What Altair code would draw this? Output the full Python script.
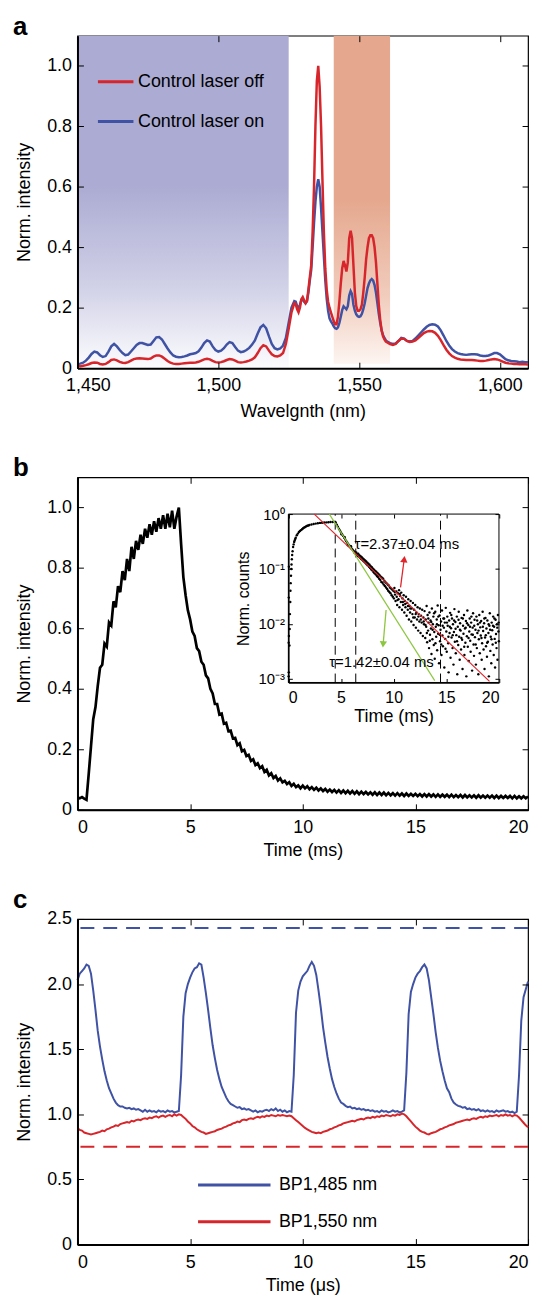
import altair as alt
import pandas as pd

FONT = "Liberation Sans"
RED = "#D7262B"
BLUE = "#3F52A4"
INSET_RED = "#E0262C"
INSET_GREEN = "#8DC63F"

# ---------------- panel a : emission spectra ----------------
wavelength = [
    1450, 1451, 1452, 1453, 1454, 1455, 1456, 1457, 1458, 1459,
    1460, 1461, 1462, 1463, 1464, 1465, 1466, 1467, 1468, 1469,
    1470, 1471, 1472, 1473, 1474, 1475, 1476, 1477, 1478, 1479,
    1480, 1481, 1482, 1483, 1484, 1485, 1486, 1487, 1488, 1489,
    1490, 1491, 1492, 1493, 1494, 1495, 1496, 1497, 1498, 1499,
    1500, 1501, 1502, 1503, 1504, 1505, 1506, 1507, 1508, 1509,
    1510, 1511, 1512, 1513, 1514, 1515, 1516, 1517, 1518, 1519,
    1520, 1521, 1522, 1523, 1524, 1525, 1526, 1527,
    1527.5, 1528, 1528.5, 1529, 1529.5, 1530, 1530.5, 1531, 1531.5, 1532,
    1532.5, 1533, 1533.5, 1534, 1534.5, 1535, 1535.5, 1536, 1536.5, 1537,
    1537.5, 1538, 1538.5, 1539, 1539.5, 1540, 1540.5, 1541, 1541.5, 1542,
    1542.5, 1543, 1543.5, 1544, 1544.5, 1545, 1545.5, 1546, 1546.5, 1547,
    1547.5, 1548, 1548.5, 1549, 1549.5, 1550, 1550.5, 1551, 1551.5, 1552,
    1552.5, 1553, 1553.5, 1554, 1554.5, 1555, 1555.5, 1556, 1556.5, 1557,
    1557.5, 1558, 1558.5, 1559, 1559.5, 1560,
    1561, 1562, 1563, 1564, 1565, 1566, 1567, 1568, 1569, 1570,
    1571, 1572, 1573, 1574, 1575, 1576, 1577, 1578, 1579, 1580,
    1581, 1582, 1583, 1584, 1585, 1586, 1587, 1588, 1589, 1590,
    1591, 1592, 1593, 1594, 1595, 1596, 1597, 1598, 1599, 1600,
    1601, 1602, 1603, 1604, 1605, 1606, 1607, 1608, 1609, 1610,
]
laser_on = [
    0.014, 0.015, 0.018, 0.025, 0.035, 0.047, 0.055, 0.052, 0.043, 0.037,
    0.04, 0.055, 0.072, 0.08, 0.072, 0.06, 0.05, 0.043, 0.045, 0.055,
    0.066, 0.077, 0.083, 0.083, 0.08, 0.077, 0.078, 0.09, 0.102, 0.103,
    0.095, 0.08, 0.065, 0.052, 0.042, 0.038, 0.036, 0.037, 0.039, 0.042,
    0.046, 0.048, 0.05, 0.056, 0.068, 0.083, 0.092, 0.088, 0.072, 0.06,
    0.055, 0.058, 0.066, 0.078, 0.086, 0.083, 0.07, 0.058, 0.053, 0.055,
    0.06, 0.067, 0.078, 0.092, 0.115, 0.135, 0.143, 0.132, 0.105, 0.08,
    0.066, 0.062, 0.065, 0.075, 0.1, 0.15, 0.2, 0.222,
    0.22, 0.205, 0.198, 0.21, 0.225, 0.228, 0.22, 0.215, 0.222, 0.25,
    0.29, 0.325, 0.4, 0.48, 0.55, 0.6, 0.625, 0.6, 0.53, 0.45,
    0.37, 0.29, 0.23, 0.19, 0.165, 0.155, 0.148, 0.138, 0.132, 0.13,
    0.135, 0.15, 0.17, 0.192, 0.205, 0.2, 0.195, 0.205, 0.24, 0.255,
    0.245, 0.21, 0.19, 0.178, 0.172, 0.17, 0.172, 0.18, 0.195, 0.215,
    0.24, 0.265, 0.28, 0.29, 0.295, 0.29, 0.275, 0.25, 0.215, 0.18,
    0.15, 0.125, 0.11, 0.1, 0.092, 0.088,
    0.083, 0.08, 0.082, 0.09, 0.1, 0.098, 0.09, 0.088, 0.09, 0.098,
    0.108, 0.118, 0.128, 0.137, 0.143, 0.145, 0.144, 0.138, 0.125, 0.108,
    0.09, 0.075, 0.063, 0.055, 0.05, 0.047, 0.045, 0.044, 0.045, 0.046,
    0.046, 0.045, 0.042, 0.04, 0.04, 0.042, 0.046, 0.05, 0.05, 0.046,
    0.038, 0.03, 0.026, 0.024, 0.023, 0.022, 0.02, 0.021, 0.02, 0.02,
]
laser_off = [
    0.006, 0.006, 0.008, 0.01, 0.013, 0.017, 0.019, 0.018, 0.014, 0.012,
    0.014, 0.02, 0.027, 0.029, 0.026, 0.021, 0.018, 0.017, 0.02, 0.025,
    0.03, 0.032, 0.033, 0.032, 0.031, 0.03, 0.032, 0.038, 0.042, 0.042,
    0.038, 0.031, 0.024, 0.018, 0.015, 0.014, 0.014, 0.015, 0.016, 0.017,
    0.018, 0.018, 0.019, 0.021, 0.025, 0.029, 0.031, 0.029, 0.024, 0.02,
    0.019, 0.02, 0.023, 0.027, 0.03, 0.029, 0.025, 0.02, 0.019, 0.02,
    0.022, 0.025, 0.029, 0.036, 0.05, 0.066, 0.076, 0.072, 0.058, 0.046,
    0.04, 0.039, 0.042, 0.05, 0.08, 0.13, 0.185, 0.215,
    0.212, 0.195, 0.185, 0.2, 0.228, 0.235, 0.225, 0.215, 0.222, 0.26,
    0.3, 0.34, 0.45, 0.6, 0.8, 0.95, 1.0, 0.93, 0.8, 0.62,
    0.45, 0.33, 0.26, 0.22, 0.2, 0.185, 0.17, 0.155, 0.145, 0.145,
    0.17, 0.22, 0.28, 0.33, 0.355, 0.34, 0.32, 0.35, 0.43, 0.455,
    0.43, 0.34, 0.25, 0.205, 0.19, 0.19, 0.195, 0.21, 0.25, 0.3,
    0.36, 0.4, 0.43, 0.44, 0.44, 0.43, 0.4, 0.35, 0.28, 0.21,
    0.16, 0.125, 0.105, 0.095, 0.088, 0.085,
    0.08, 0.077, 0.08, 0.09, 0.098, 0.097, 0.09, 0.087, 0.088, 0.092,
    0.1, 0.108, 0.116, 0.121, 0.123, 0.122, 0.117, 0.107, 0.093, 0.076,
    0.061, 0.049, 0.04, 0.035, 0.031, 0.029, 0.028, 0.027, 0.027, 0.027,
    0.026, 0.025, 0.024, 0.024, 0.025, 0.027, 0.029, 0.03, 0.029, 0.026,
    0.022, 0.018, 0.016, 0.015, 0.014, 0.014, 0.013, 0.013, 0.013, 0.012,
]
series_names_a = ["Control laser off", "Control laser on"]
band_names = ["BP1,485", "BP1,550"]
band_start = [1450, 1541]
band_end = [1525, 1561]
band_bottom = [0.0, 0.015]
band_top = [1.1, 1.1]
panel_letters = ["a", "b", "c"]

# ---------------- panel b : rise / decay ----------------
time_grid = [
    0.0, 0.1, 0.2, 0.3, 0.4, 0.5, 0.6, 0.7, 0.8, 0.9,
    1.0, 1.1, 1.2, 1.3, 1.4, 1.5, 1.6, 1.7, 1.8, 1.9,
    2.0, 2.1, 2.2, 2.3, 2.4, 2.5, 2.6, 2.7, 2.8, 2.9,
    3.0, 3.1, 3.2, 3.3, 3.4, 3.5, 3.6, 3.7, 3.8, 3.9,
    4.0, 4.1, 4.2, 4.3, 4.4, 4.5, 4.6, 4.7, 4.8, 4.9,
    5.0, 5.1, 5.2, 5.3, 5.4, 5.5, 5.6, 5.7, 5.8, 5.9,
    6.0, 6.1, 6.2, 6.3, 6.4, 6.5, 6.6, 6.7, 6.8, 6.9,
    7.0, 7.1, 7.2, 7.3, 7.4, 7.5, 7.6, 7.7, 7.8, 7.9,
    8.0, 8.1, 8.2, 8.3, 8.4, 8.5, 8.6, 8.7, 8.8, 8.9,
    9.0, 9.1, 9.2, 9.3, 9.4, 9.5, 9.6, 9.7, 9.8, 9.9,
    10.0, 10.1, 10.2, 10.3, 10.4, 10.5, 10.6, 10.7, 10.8, 10.9,
    11.0, 11.1, 11.2, 11.3, 11.4, 11.5, 11.6, 11.7, 11.8, 11.9,
    12.0, 12.1, 12.2, 12.3, 12.4, 12.5, 12.6, 12.7, 12.8, 12.9,
    13.0, 13.1, 13.2, 13.3, 13.4, 13.5, 13.6, 13.7, 13.8, 13.9,
    14.0, 14.1, 14.2, 14.3, 14.4, 14.5, 14.6, 14.7, 14.8, 14.9,
    15.0, 15.1, 15.2, 15.3, 15.4, 15.5, 15.6, 15.7, 15.8, 15.9,
    16.0, 16.1, 16.2, 16.3, 16.4, 16.5, 16.6, 16.7, 16.8, 16.9,
    17.0, 17.1, 17.2, 17.3, 17.4, 17.5, 17.6, 17.7, 17.8, 17.9,
    18.0, 18.1, 18.2, 18.3, 18.4, 18.5, 18.6, 18.7, 18.8, 18.9,
    19.0, 19.1, 19.2, 19.3, 19.4, 19.5, 19.6, 19.7, 19.8, 19.9,
    20.0,
]
intensity_b = [
    0.041, 0.038, 0.042, 0.037, 0.033, 0.12, 0.21, 0.3, 0.34, 0.41,
    0.47, 0.48, 0.55, 0.54, 0.62, 0.61, 0.69, 0.67, 0.74, 0.72,
    0.79, 0.76, 0.83, 0.79, 0.87, 0.83, 0.89, 0.86, 0.91, 0.88,
    0.93, 0.9, 0.945, 0.91, 0.955, 0.92, 0.965, 0.93, 0.975, 0.93,
    0.98, 0.935, 0.99, 0.93, 0.97, 1.0, 0.88, 0.77, 0.71, 0.66,
    0.63, 0.59, 0.575, 0.535, 0.525, 0.49, 0.48, 0.445, 0.435, 0.4,
    0.385, 0.35, 0.35, 0.315, 0.318, 0.285, 0.288, 0.26, 0.262, 0.236,
    0.238, 0.214, 0.22, 0.194, 0.198, 0.178, 0.182, 0.162, 0.167, 0.148,
    0.154, 0.138, 0.144, 0.125, 0.132, 0.114, 0.121, 0.105, 0.112, 0.097,
    0.104, 0.091, 0.096, 0.085, 0.091, 0.079, 0.086, 0.075, 0.081, 0.071,
    0.08, 0.071, 0.078, 0.068, 0.075, 0.066, 0.073, 0.064, 0.071, 0.062,
    0.069, 0.06, 0.067, 0.059, 0.066, 0.057, 0.065, 0.056, 0.064, 0.055,
    0.063, 0.054, 0.062, 0.053, 0.061, 0.052, 0.06, 0.052, 0.059, 0.051,
    0.058, 0.05, 0.058, 0.049, 0.057, 0.049, 0.057, 0.048, 0.056, 0.048,
    0.055, 0.047, 0.055, 0.047, 0.054, 0.046, 0.054, 0.046, 0.053, 0.046,
    0.053, 0.045, 0.052, 0.044, 0.052, 0.044, 0.052, 0.044, 0.051, 0.043,
    0.051, 0.043, 0.05, 0.043, 0.05, 0.042, 0.05, 0.042, 0.049, 0.042,
    0.049, 0.041, 0.049, 0.041, 0.048, 0.041, 0.048, 0.04, 0.048, 0.04,
    0.047, 0.04, 0.047, 0.04, 0.047, 0.039, 0.047, 0.039, 0.046, 0.039,
    0.046, 0.039, 0.046, 0.038, 0.046, 0.038, 0.045, 0.038, 0.045, 0.038,
    0.044,
]

# inset: (time ms, normalised counts)
inset_points = [
    (0.03, 0.0011), (0.04, 0.0013), (0.03, 0.0045), (0.05, 0.006), (0.04, 0.03), (0.05, 0.11),
    (0.1, 0.004), (0.12, 0.008), (0.15, 0.015), (0.18, 0.025), (0.2, 0.04), (0.22, 0.055),
    (0.25, 0.075), (0.28, 0.1), (0.3, 0.12), (0.33, 0.15), (0.36, 0.18), (0.4, 0.21),
    (0.45, 0.25), (0.5, 0.28), (0.55, 0.31), (0.6, 0.33), (0.65, 0.35), (0.7, 0.37),
    (0.8, 0.41), (0.9, 0.44), (1.0, 0.47), (1.1, 0.49), (1.2, 0.51), (1.3, 0.53),
    (1.4, 0.55), (1.5, 0.57), (1.6, 0.58), (1.7, 0.6), (1.8, 0.61), (1.9, 0.62),
    (2.0, 0.63), (2.2, 0.645), (2.4, 0.66), (2.6, 0.67), (2.8, 0.68), (3.0, 0.69),
    (3.2, 0.695), (3.4, 0.7), (3.6, 0.705), (3.8, 0.71), (4.0, 0.715), (4.2, 0.715), (4.4, 0.72),
    (4.5, 0.7), (4.6, 0.64), (4.7, 0.59), (4.8, 0.54), (4.9, 0.5), (5.0, 0.46), (5.05, 0.43),
    (5.1, 0.43), (5.2, 0.4), (5.3, 0.37), (5.35, 0.38), (5.4, 0.345), (5.5, 0.32), (5.6, 0.3),
    (5.65, 0.27), (5.7, 0.28), (5.8, 0.265), (5.9, 0.25), (5.95, 0.26), (6.0, 0.236),
    (6.1, 0.225), (6.2, 0.213), (6.25, 0.2), (6.3, 0.203), (6.4, 0.193), (6.45, 0.2), (6.5, 0.185),
    (6.52, 0.185), (6.58, 0.172), (6.63, 0.19), (6.7, 0.168), (6.74, 0.178), (6.81, 0.16),
    (6.86, 0.171), (6.92, 0.152), (6.97, 0.163), (7.03, 0.146), (7.08, 0.155), (7.12, 0.139),
    (7.18, 0.149), (7.23, 0.134), (7.29, 0.142), (7.33, 0.128), (7.39, 0.137), (7.44, 0.121),
    (7.5, 0.13), (7.54, 0.116), (7.6, 0.124), (7.66, 0.109), (7.71, 0.119), (7.76, 0.104),
    (7.82, 0.112), (7.87, 0.098), (7.93, 0.107), (7.98, 0.094),
    (8.03, 0.101), (8.08, 0.088), (8.14, 0.097), (8.19, 0.083), (8.24, 0.092), (8.3, 0.079),
    (8.34, 0.089), (8.41, 0.074), (8.46, 0.084), (8.5, 0.071), (8.57, 0.08), (8.62, 0.066),
    (8.66, 0.077), (8.73, 0.063), (8.78, 0.072), (8.83, 0.058), (8.9, 0.069), (8.94, 0.056),
    (9.0, 0.066), (9.05, 0.052), (9.11, 0.061), (9.16, 0.049), (9.21, 0.058), (9.27, 0.046),
    (9.32, 0.055), (9.38, 0.043), (9.43, 0.052), (9.48, 0.04), (9.54, 0.05), (9.59, 0.038),
    (9.65, 0.046), (9.7, 0.036), (9.76, 0.044), (9.81, 0.033), (9.86, 0.042), (9.92, 0.031),
    (9.97, 0.04),
    (10.02, 0.029), (10.07, 0.045), (10.13, 0.034), (10.18, 0.026), (10.24, 0.039), (10.29, 0.031),
    (10.33, 0.022), (10.4, 0.036), (10.46, 0.028), (10.51, 0.041), (10.55, 0.02), (10.62, 0.032),
    (10.68, 0.025), (10.72, 0.037), (10.79, 0.018), (10.84, 0.029), (10.9, 0.022), (10.95, 0.033),
    (11.01, 0.016), (11.06, 0.026), (11.12, 0.02), (11.17, 0.031), (11.23, 0.014), (11.28, 0.024),
    (11.34, 0.018), (11.39, 0.028), (11.45, 0.012), (11.5, 0.021), (11.56, 0.016), (11.61, 0.026),
    (11.67, 0.011), (11.72, 0.019), (11.78, 0.015), (11.83, 0.024), (11.89, 0.0095), (11.94, 0.018),
    (12.0, 0.013), (12.05, 0.022), (12.11, 0.0085), (12.16, 0.016), (12.22, 0.012), (12.27, 0.02),
    (12.33, 0.0075), (12.38, 0.015), (12.44, 0.011), (12.49, 0.019), (12.55, 0.0068), (12.6, 0.014),
    (12.66, 0.0105), (12.71, 0.018), (12.77, 0.006), (12.82, 0.013), (12.88, 0.0098), (12.93, 0.017),
    (10.1, 0.038), (10.36, 0.027), (10.58, 0.035), (10.87, 0.025), (11.1, 0.023), (11.36, 0.021),
    (11.58, 0.019), (11.86, 0.013), (12.09, 0.015), (12.35, 0.0135), (12.58, 0.012), (12.85, 0.011),
    (13.0, 0.0055), (13.04, 0.012), (13.09, 0.0088), (13.13, 0.021), (13.18, 0.0046), (13.22, 0.0145),
    (13.27, 0.0075), (13.31, 0.0105), (13.36, 0.0036), (13.4, 0.016), (13.45, 0.0063), (13.5, 0.0115),
    (13.54, 0.0082), (13.59, 0.0028), (13.63, 0.019), (13.68, 0.0052), (13.72, 0.0098), (13.77, 0.0135),
    (13.81, 0.0041), (13.86, 0.0071), (13.9, 0.0023), (13.95, 0.0165), (14.0, 0.0088), (14.04, 0.0058),
    (14.09, 0.012), (14.13, 0.0033), (14.18, 0.0215), (14.22, 0.0066), (14.27, 0.0094), (14.31, 0.0019),
    (14.36, 0.0142), (14.4, 0.0048), (14.45, 0.0078), (14.5, 0.011), (14.54, 0.0027), (14.59, 0.0175),
    (14.63, 0.0061), (14.68, 0.0039), (14.72, 0.0125), (14.77, 0.0085), (14.81, 0.0016), (14.86, 0.0105),
    (14.9, 0.0053), (14.95, 0.0195), (15.0, 0.0072), (15.04, 0.0031), (15.09, 0.0135), (15.13, 0.0092),
    (15.18, 0.0044), (15.22, 0.0013), (15.27, 0.0115), (15.31, 0.0068), (15.36, 0.0158), (15.4, 0.0024),
    (15.45, 0.0083), (15.5, 0.0056), (15.54, 0.0125), (15.59, 0.0036), (15.63, 0.0098), (15.68, 0.0018),
    (15.72, 0.0071), (15.77, 0.0185), (15.81, 0.0047), (15.86, 0.0108), (15.9, 0.0029), (15.95, 0.0062),
    (16.0, 0.0135), (16.04, 0.0012), (16.09, 0.0088), (16.13, 0.0041), (16.18, 0.0165), (16.22, 0.0058),
    (16.27, 0.0022), (16.31, 0.0102), (16.36, 0.0075), (16.4, 0.0034), (16.45, 0.0128), (16.5, 0.0051),
    (16.54, 0.0015), (16.59, 0.0092), (16.63, 0.0066), (16.68, 0.0145), (16.72, 0.0027), (16.77, 0.0082),
    (16.81, 0.0045), (16.86, 0.0112), (16.9, 0.0011), (16.95, 0.0059), (17.0, 0.0175), (17.04, 0.0038),
    (17.09, 0.0095), (17.13, 0.0021), (17.18, 0.0072), (17.22, 0.0125), (17.27, 0.0049), (17.31, 0.0031),
    (17.36, 0.0105), (17.4, 0.0064), (17.45, 0.0014), (17.5, 0.0085), (17.54, 0.0155), (17.59, 0.0042),
    (17.63, 0.0026), (17.68, 0.0118), (17.72, 0.0057), (17.77, 0.0078), (17.81, 0.0018), (17.86, 0.0135),
    (17.9, 0.0036), (17.95, 0.0068), (18.0, 0.0098), (18.04, 0.0012), (18.09, 0.0052), (18.13, 0.0145),
    (18.18, 0.0029), (18.22, 0.0086), (18.27, 0.0061), (18.31, 0.0112), (18.36, 0.0022), (18.4, 0.0044),
    (18.45, 0.0165), (18.5, 0.0074), (18.54, 0.0034), (18.59, 0.0102), (18.63, 0.0015), (18.68, 0.0056),
    (18.72, 0.0128), (18.77, 0.0039), (18.81, 0.0082), (18.86, 0.0025), (18.9, 0.0115), (18.95, 0.0047),
    (19.0, 0.0068), (19.04, 0.0011), (19.09, 0.0092), (19.13, 0.0155), (19.18, 0.0032), (19.22, 0.0058),
    (19.27, 0.0019), (19.31, 0.0105), (19.36, 0.0076), (19.4, 0.0042), (19.45, 0.0135), (19.5, 0.0027),
    (19.54, 0.0088), (19.59, 0.0053), (19.63, 0.0016), (19.68, 0.0118), (19.72, 0.0065), (19.77, 0.0036),
    (19.81, 0.0098), (19.86, 0.0022), (19.9, 0.0145), (19.95, 0.0072), (19.99, 0.0048),
    (13.02, 0.0095), (13.15, 0.0068), (13.29, 0.0125), (13.43, 0.0049), (13.57, 0.0108), (13.7, 0.0078),
    (13.84, 0.0155), (13.97, 0.0044), (14.11, 0.0098), (14.24, 0.0135), (14.38, 0.0063), (14.52, 0.0042),
    (14.65, 0.0092), (14.79, 0.0125), (14.92, 0.0035), (15.06, 0.0105), (15.2, 0.0058), (15.33, 0.0088),
    (15.47, 0.0145), (15.61, 0.0062), (15.74, 0.0115), (15.88, 0.0081), (16.02, 0.0048), (16.16, 0.0118),
    (16.29, 0.0078), (16.43, 0.0055), (16.57, 0.0125), (16.7, 0.0038), (16.84, 0.0085), (16.97, 0.0102),
    (17.11, 0.0055), (17.25, 0.0088), (17.38, 0.0135), (17.52, 0.0063), (17.65, 0.0092), (17.79, 0.0042),
    (17.93, 0.0115), (18.06, 0.0075), (18.2, 0.0105), (18.34, 0.0055), (18.47, 0.0088), (18.61, 0.0125),
    (18.75, 0.0062), (18.88, 0.0045), (19.02, 0.0098), (19.16, 0.0078), (19.29, 0.0052), (19.43, 0.0092),
    (19.57, 0.0125), (19.7, 0.0045), (19.84, 0.0085), (19.97, 0.0105),
]
inset_dash_times = [4.45, 6.4, 14.45]
inset_range_counts = [0.00085, 1.0]
fit_slow_t = [2.46, 19.1]
fit_slow_c = [1.0, 0.00089]
fit_fast_t = [3.89, 13.9]
fit_fast_c = [1.0, 0.00092]
annot_text = ["\u03c4=2.37\u00b10.04 ms", "\u03c4=1.42\u00b10.04 ms"]
annot_t = [11.25, 8.84]
annot_c = [0.29, 0.002]
arrow_slow = {"t": [10.65], "c": [0.046], "t2": [11.0], "c2": [0.15]}
arrow_fast = {"t": [9.28], "c": [0.0178], "t2": [9.0], "c2": [0.0042]}

# ---------------- panel c : modulation ----------------
series_names_c = ["BP1,485 nm", "BP1,550 nm"]
bp1485 = [
    2.03, 2.08, 2.1, 2.12, 2.15, 2.14, 2.08, 1.95, 1.8, 1.64,
    1.52, 1.42, 1.33, 1.26, 1.2, 1.16, 1.12, 1.09, 1.07, 1.06,
    1.06, 1.05, 1.045, 1.05, 1.04, 1.045, 1.035, 1.04, 1.03, 1.02,
    1.035, 1.02, 1.03, 1.02, 1.025, 1.015, 1.03, 1.02, 1.025, 1.015,
    1.03, 1.02, 1.025, 1.015, 1.02, 1.025, 1.3, 1.75, 1.93, 2.0,
    2.05, 2.09, 2.12, 2.13, 2.16, 2.15, 2.05, 1.93, 1.8, 1.66,
    1.53, 1.43, 1.34, 1.27, 1.21, 1.17, 1.13, 1.1, 1.08, 1.07,
    1.06, 1.05, 1.055, 1.04, 1.045, 1.035, 1.04, 1.03, 1.02, 1.03,
    1.015, 1.025, 1.02, 1.03, 1.035, 1.025, 1.04, 1.03, 1.045, 1.025,
    1.035, 1.02, 1.03, 1.015, 1.025, 1.02, 1.3, 1.78, 1.95, 2.02,
    2.06, 2.08, 2.1, 2.14, 2.17, 2.14, 2.07, 1.95, 1.82, 1.67,
    1.55, 1.44, 1.35, 1.27, 1.21, 1.16, 1.12, 1.09, 1.08, 1.065,
    1.055, 1.06, 1.045, 1.05, 1.04, 1.045, 1.035, 1.04, 1.03, 1.035,
    1.025, 1.03, 1.02, 1.025, 1.015, 1.03, 1.02, 1.025, 1.015, 1.02,
    1.03, 1.02, 1.025, 1.015, 1.02, 1.03, 1.32, 1.77, 1.94, 2.0,
    2.05, 2.08, 2.1, 2.13, 2.15, 2.12, 2.03, 1.9, 1.77, 1.63,
    1.51, 1.41, 1.33, 1.26, 1.2, 1.17, 1.12, 1.09, 1.075, 1.065,
    1.06, 1.05, 1.055, 1.04, 1.045, 1.035, 1.04, 1.03, 1.04, 1.025,
    1.03, 1.02, 1.03, 1.02, 1.025, 1.015, 1.03, 1.02, 1.025, 1.03,
    1.02, 1.025, 1.015, 1.02, 1.01, 1.02, 1.3, 1.72, 1.9, 1.96,
    2.02,
]
bp1550 = [
    0.895, 0.88, 0.875, 0.86, 0.855, 0.85, 0.845, 0.85, 0.855, 0.86,
    0.865, 0.875, 0.87, 0.885, 0.89, 0.9, 0.905, 0.915, 0.91, 0.925,
    0.93, 0.935, 0.94, 0.935, 0.95, 0.945, 0.955, 0.96, 0.955, 0.965,
    0.97, 0.965, 0.975, 0.97, 0.98, 0.985, 0.975, 0.985, 0.99, 0.98,
    0.99, 0.995, 0.985, 1.0, 0.99, 1.0, 0.995, 0.98, 0.965, 0.945,
    0.93, 0.91, 0.9, 0.885, 0.875, 0.865, 0.86, 0.85, 0.855, 0.86,
    0.865, 0.87, 0.88, 0.885, 0.89, 0.9, 0.905, 0.915, 0.92, 0.93,
    0.935, 0.945, 0.94, 0.955, 0.96, 0.955, 0.965, 0.97, 0.965, 0.975,
    0.98, 0.975, 0.985, 0.98, 0.99, 0.985, 0.995, 0.99, 0.985, 0.995,
    0.99, 0.995, 0.99, 0.985, 0.99, 0.985, 0.97, 0.955, 0.94, 0.925,
    0.91, 0.895, 0.885, 0.875, 0.865, 0.86, 0.855, 0.86, 0.855, 0.865,
    0.87, 0.875, 0.885, 0.89, 0.9, 0.905, 0.915, 0.92, 0.93, 0.935,
    0.94, 0.945, 0.95, 0.945, 0.955, 0.96, 0.965, 0.96, 0.97, 0.975,
    0.97, 0.98, 0.975, 0.985, 0.98, 0.99, 0.985, 0.995, 0.99, 0.985,
    0.995, 0.99, 1.0, 0.995, 1.005, 1.0, 0.985, 0.965, 0.945, 0.925,
    0.905, 0.89, 0.875, 0.865, 0.86, 0.85, 0.845, 0.855, 0.86, 0.865,
    0.875, 0.885, 0.89, 0.9, 0.905, 0.915, 0.92, 0.925, 0.935, 0.94,
    0.945, 0.95, 0.955, 0.96, 0.955, 0.965, 0.97, 0.965, 0.975, 0.98,
    0.975, 0.985, 0.98, 0.99, 0.985, 0.99, 0.995, 0.985, 0.995, 0.99,
    1.0, 0.99, 0.995, 0.985, 0.995, 0.99, 0.975, 0.955, 0.935, 0.915,
    0.9,
]
reference_levels = [2.43, 0.75]

# ---------------- layout constants ----------------
W = 454
HA = 335
HB = 335
HC = 328


def label_axis(orient, values, title, expr=None, lp=6, tp=13, **kw):
    opts = dict(orient=orient, values=values, title=title, ticks=False, domain=True,
                domainColor="black", domainWidth=2, labelPadding=lp, titlePadding=tp,
                labelFontSize=18, titleFontSize=18, labelColor="black", titleColor="black",
                titleFontWeight="normal", grid=False, zindex=1, labelFont=FONT, titleFont=FONT)
    if expr is not None:
        opts["labelExpr"] = expr
    opts.update(kw)
    return alt.Axis(**opts)


def tick_axis(orient, values, size=6, offset=None):
    # inward-pointing tick marks: an axis pushed into the plot by a negative offset
    return alt.Axis(orient=orient, values=values, labels=False, title=None, domain=False,
                    ticks=True, tickSize=size, tickColor="black", tickWidth=1,
                    offset=(-size if offset is None else offset), grid=False, zindex=2,
                    minExtent=0, maxExtent=0)


def letter(txt, dy):
    # bold panel letter placed just above the top-left corner of the panel
    return alt.Chart(pd.DataFrame({"panel": [txt]})).mark_text(
        font=FONT, fontSize=26, fontWeight="bold", align="left", baseline="alphabetic",
        color="black").encode(x=alt.value(-65), y=alt.value(dy), text="panel:N")


Y_EXPR = "datum.value == 0 ? '0' : format(datum.value, '.1f')"

# ================= panel a =================
dfa = pd.DataFrame({"wl": wavelength, "Control laser on": laser_on, "Control laser off": laser_off})
da = dfa.melt("wl", var_name="series", value_name="v")
bands = pd.DataFrame({"band": band_names, "x0": band_start, "x1": band_end,
                      "y0": band_bottom, "y1": band_top})

xa = alt.Scale(domain=[1450, 1610], nice=False, zero=False)
ya = alt.Scale(domain=[0, 1.1], nice=False, zero=False)
xa_ticks = [1450, 1500, 1550, 1600]
ya_ticks = [0, 0.2, 0.4, 0.6, 0.8, 1.0]

blue_grad = alt.Gradient(gradient="linear", x1=0, x2=0, y1=0, y2=1, stops=[
    alt.GradientStop(color="#ABABD3", offset=0),
    alt.GradientStop(color="#ABABD3", offset=0.45),
    alt.GradientStop(color="#D0D0E7", offset=0.75),
    alt.GradientStop(color="#FCFCFE", offset=1)])
salmon_grad = alt.Gradient(gradient="linear", x1=0, x2=0, y1=0, y2=1, stops=[
    alt.GradientStop(color="#E5A88E", offset=0),
    alt.GradientStop(color="#E5A88E", offset=0.5),
    alt.GradientStop(color="#F1CDBE", offset=0.8),
    alt.GradientStop(color="#FDF5F1", offset=1)])

band_blue = alt.Chart(bands[bands.band == "BP1,485"]).mark_rect(color=blue_grad).encode(
    x=alt.X("x0:Q", scale=xa, axis=label_axis("bottom", xa_ticks, "Wavelgnth (nm)",
                                               "format(datum.value, ',')", lp=9, tp=8,
                                               labelFlush=True, labelFlushOffset=12)),
    x2="x1",
    y=alt.Y("y0:Q", scale=ya, axis=label_axis("left", ya_ticks, "Norm. intensity", Y_EXPR)),
    y2="y1",
)
band_salmon = alt.Chart(bands[bands.band == "BP1,550"]).mark_rect(color=salmon_grad).encode(
    x=alt.X("x0:Q", scale=xa, axis=tick_axis("bottom", xa_ticks)),
    x2="x1",
    y=alt.Y("y0:Q", scale=ya, axis=tick_axis("left", ya_ticks)),
    y2="y1",
)
leg_a = alt.Legend(title=None, orient="none", legendX=28, legendY=36, symbolType="M-2,0H2",
                   symbolSize=320, symbolStrokeWidth=3, labelFontSize=18, labelFont=FONT,
                   labelColor="black", labelOffset=12, rowPadding=20, padding=0)
color_a = alt.Color("series:N", scale=alt.Scale(domain=series_names_a, range=[RED, BLUE]), legend=leg_a)
line_on = alt.Chart(da[da.series == "Control laser on"]).mark_line(strokeWidth=2.5).encode(
    x=alt.X("wl:Q", scale=xa, axis=tick_axis("bottom", xa_ticks, 6, -HA)),
    y=alt.Y("v:Q", scale=ya, axis=tick_axis("left", ya_ticks, 6, -W)),
    color=color_a,
)
line_off = alt.Chart(da[da.series == "Control laser off"]).mark_line(strokeWidth=2.5).encode(
    x=alt.X("wl:Q", scale=xa, axis=None),
    y=alt.Y("v:Q", scale=ya, axis=None),
    color=color_a,
)
panel_a = alt.layer(band_blue, band_salmon, line_on, line_off, letter(panel_letters[0], -1)).resolve_axis(
    x="independent", y="independent").properties(width=W, height=HA)

# ================= panel b =================
dfb = pd.DataFrame({"t": time_grid, "v": intensity_b})
xb = alt.Scale(domain=[0, 20], nice=False, zero=False)
yb = alt.Scale(domain=[0, 1.1], nice=False, zero=False)
xt_ticks = [0, 5, 10, 15, 20]

line_b = alt.Chart(dfb).mark_line(color="black", strokeWidth=2.7).encode(
    x=alt.X("t:Q", scale=xb, axis=label_axis("bottom", xt_ticks, "Time (ms)", lp=9, tp=5)),
    y=alt.Y("v:Q", scale=yb, axis=label_axis("left", ya_ticks, "Norm. intensity", Y_EXPR)),
)
carrier_b1 = alt.Chart(dfb).mark_point(opacity=0).encode(
    x=alt.X("t:Q", scale=xb, axis=tick_axis("bottom", xt_ticks)),
    y=alt.Y("v:Q", scale=yb, axis=tick_axis("left", ya_ticks)),
)
carrier_b2 = alt.Chart(dfb).mark_point(opacity=0).encode(
    x=alt.X("t:Q", scale=xb, axis=tick_axis("bottom", xt_ticks, 6, -HB)),
    y=alt.Y("v:Q", scale=yb, axis=tick_axis("left", ya_ticks, 6, -W)),
)
main_b = alt.layer(line_b, carrier_b1, carrier_b2, letter(panel_letters[1], -1)).resolve_axis(
    x="independent", y="independent")

# inset geometry (pixels inside panel b's plot area)
IN_L, IN_R, IN_T, IN_B = 212.5, 424.7, 37.0, 206.7
ix = alt.Scale(domain=[0, 20], range=[IN_L, IN_R], nice=False, zero=False)
iy = alt.Scale(type="log", domain=inset_range_counts, range=[IN_B, IN_T], nice=False)
iy_ticks = [0.001, 0.01, 0.1, 1]
LOG_EXPR = ("datum.value > 0.5 ? '10\u2070' : datum.value > 0.05 ? '10\u207b\u00b9' : "
            "datum.value > 0.005 ? '10\u207b\u00b2' : '10\u207b\u00b3'")

frame_df = pd.DataFrame({"x0": [0], "x1": [20], "y0": [inset_range_counts[0]], "y1": [inset_range_counts[1]]})
inset_frame = alt.Chart(frame_df).mark_rect(fill="white", stroke="black", strokeWidth=1).encode(
    x=alt.X("x0:Q", scale=ix, axis=alt.Axis(
        orient="bottom", offset=-(HB - IN_B), values=xt_ticks, title="Time (ms)", ticks=False,
        domain=True, domainColor="black", domainWidth=1.5, labelPadding=7, titlePadding=2,
        labelFontSize=16, titleFontSize=18, labelColor="black", titleColor="black",
        titleFontWeight="normal", grid=False, zindex=1, labelFont=FONT, titleFont=FONT)),
    x2="x1",
    y=alt.Y("y0:Q", scale=iy, axis=alt.Axis(
        orient="left", offset=-IN_L, values=iy_ticks, labelExpr=LOG_EXPR, title="Norm. counts",
        ticks=False, domain=True, domainColor="black", domainWidth=1.5, labelPadding=4,
        titlePadding=6, labelFontSize=15, titleFontSize=16, labelColor="black",
        titleColor="black", titleFontWeight="normal", grid=False, zindex=1, labelFont=FONT,
        titleFont=FONT)),
    y2="y1",
)
dash_df = pd.DataFrame({"t": inset_dash_times, "lo": [inset_range_counts[0]] * len(inset_dash_times),
                        "hi": [inset_range_counts[1]] * len(inset_dash_times)})
inset_dashes = alt.Chart(dash_df).mark_rule(color="black", strokeWidth=1, strokeDash=[9, 5]).encode(
    x=alt.X("t:Q", scale=ix, axis=None),
    y=alt.Y("lo:Q", scale=iy, axis=None),
    y2="hi",
)
pts_df = pd.DataFrame(inset_points, columns=["t", "c"])
inset_pts = alt.Chart(pts_df).mark_circle(size=6, color="black", opacity=1).encode(
    x=alt.X("t:Q", scale=ix, axis=tick_axis("bottom", xt_ticks, 4, -(HB - IN_B) - 4)),
    y=alt.Y("c:Q", scale=iy, axis=tick_axis("left", iy_ticks, 4, -IN_L - 4)),
)
fit_slow = alt.Chart(pd.DataFrame({"t": fit_slow_t, "c": fit_slow_c})).mark_line(
    color=INSET_RED, strokeWidth=1.2).encode(
    x=alt.X("t:Q", scale=ix, axis=tick_axis("bottom", xt_ticks, 4, -(HB - IN_T))),
    y=alt.Y("c:Q", scale=iy, axis=tick_axis("left", iy_ticks, 4, -IN_R)),
)
fit_fast = alt.Chart(pd.DataFrame({"t": fit_fast_t, "c": fit_fast_c})).mark_line(
    color=INSET_GREEN, strokeWidth=1.2).encode(
    x=alt.X("t:Q", scale=ix, axis=None),
    y=alt.Y("c:Q", scale=iy, axis=None),
)


def arrow(d, col, shape, ang):
    df = pd.DataFrame(d)
    shaft = alt.Chart(df).mark_rule(color=col, strokeWidth=1.3).encode(
        x=alt.X("t:Q", scale=ix, axis=None), y=alt.Y("c:Q", scale=iy, axis=None),
        x2="t2", y2="c2")
    head = alt.Chart(df).mark_point(shape=shape, filled=True, size=55, angle=ang, color=col,
                                    opacity=1).encode(
        x=alt.X("t2:Q", scale=ix, axis=None), y=alt.Y("c2:Q", scale=iy, axis=None))
    return shaft, head


sr, hr = arrow(arrow_slow, INSET_RED, "triangle-up", 7)
sg, hg = arrow(arrow_fast, INSET_GREEN, "triangle-down", 5)
annot = alt.Chart(pd.DataFrame({"label": annot_text, "t": annot_t, "c": annot_c})).mark_text(
    fontSize=15, font=FONT, color="black").encode(
    x=alt.X("t:Q", scale=ix, axis=None), y=alt.Y("c:Q", scale=iy, axis=None), text="label:N")

inset = alt.layer(inset_frame, inset_dashes, inset_pts, fit_slow, fit_fast, sr, hr, sg, hg,
                  annot).resolve_axis(x="independent", y="independent")

panel_b = alt.layer(main_b, inset).resolve_scale(x="independent", y="independent").properties(
    width=W, height=HB)

# ================= panel c =================
dfc = pd.DataFrame({"t": time_grid, "BP1,485 nm": bp1485, "BP1,550 nm": bp1550})
dc = dfc.melt("t", var_name="series", value_name="v")
xc = alt.Scale(domain=[0, 20], nice=False, zero=False)
yc = alt.Scale(domain=[0, 2.5], nice=False, zero=False)
yc_ticks = [0, 0.5, 1.0, 1.5, 2.0, 2.5]
leg_c = alt.Legend(title=None, orient="none", legendX=147, legendY=257, symbolType="M-4,0H4",
                   symbolSize=333, symbolStrokeWidth=3, labelFontSize=18, labelFont=FONT,
                   labelColor="black", labelOffset=34, rowPadding=17, padding=0)
color_c = alt.Color("series:N", scale=alt.Scale(domain=series_names_c, range=[BLUE, RED]), legend=leg_c)

line_1485 = alt.Chart(dc[dc.series == "BP1,485 nm"]).mark_line(strokeWidth=2).encode(
    x=alt.X("t:Q", scale=xc, axis=label_axis("bottom", xt_ticks, "Time (\u03bcs)", lp=9, tp=5)),
    y=alt.Y("v:Q", scale=yc, axis=label_axis("left", yc_ticks, "Norm. intensity", Y_EXPR)),
    color=color_c,
)
line_1550 = alt.Chart(dc[dc.series == "BP1,550 nm"]).mark_line(strokeWidth=2).encode(
    x=alt.X("t:Q", scale=xc, axis=tick_axis("bottom", xt_ticks)),
    y=alt.Y("v:Q", scale=yc, axis=tick_axis("left", yc_ticks)),
    color=color_c,
)
carrier_c = alt.Chart(dfc).mark_point(opacity=0).encode(
    x=alt.X("t:Q", scale=xc, axis=tick_axis("bottom", xt_ticks, 6, -HC)),
    y=alt.Y("BP1,485 nm:Q", scale=yc, axis=tick_axis("left", yc_ticks, 6, -W)),
)
lv = pd.DataFrame({"level": reference_levels, "series": series_names_c})
dash_blue = alt.Chart(lv[lv.series == "BP1,485 nm"]).mark_rule(
    color=BLUE, strokeWidth=2, strokeDash=[14, 9]).encode(y=alt.Y("level:Q", scale=yc, axis=None))
dash_red = alt.Chart(lv[lv.series == "BP1,550 nm"]).mark_rule(
    color=RED, strokeWidth=2, strokeDash=[14, 9]).encode(y=alt.Y("level:Q", scale=yc, axis=None))

panel_c = alt.layer(dash_blue, dash_red, line_1485, line_1550, carrier_c,
                    letter(panel_letters[2], -11)).resolve_axis(
    x="independent", y="independent").properties(width=W, height=HC)

chart = alt.vconcat(panel_a, panel_b, panel_c, spacing=110, bounds="flush",
                    padding={"left": 4, "top": 0, "right": 0, "bottom": 0}).resolve_scale(
    color="independent").configure(font=FONT).configure_view(
    stroke="black", strokeWidth=1.2).configure_axis(labelFont=FONT, titleFont=FONT)

chart.save("out.html", embed_options={"renderer": "svg", "actions": False})
